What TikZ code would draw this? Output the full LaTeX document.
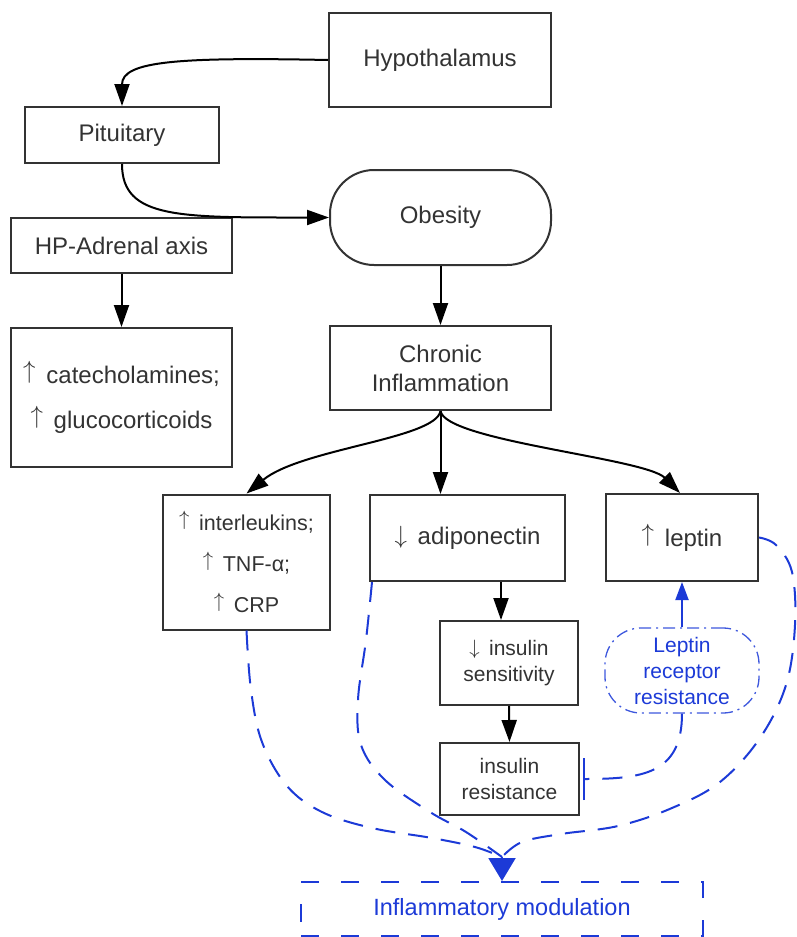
\documentclass[tikz,border=0pt]{standalone}
\usepackage{fontspec}
\setmainfont{Liberation Sans}
\usetikzlibrary{arrows.meta}
\definecolor{ink}{HTML}{333333}
\definecolor{bl}{RGB}{28,58,215}
\newcommand\myup{\raisebox{0.2em}{$\uparrow$}\hspace{0.45em}}
\newcommand\mydown{\raisebox{0.05em}{$\downarrow$}\hspace{0.45em}}
\begin{document}
\begin{tikzpicture}[x=1pt,y=-1pt,
  box/.style={draw=ink, line width=2pt, rectangle, inner sep=0pt, text=ink, align=center, font=\fontsize{24}{29}\selectfont},
  smallbox/.style={box, font=\fontsize{21}{26}\selectfont},
  blk/.style={draw=black, line width=2pt, -{Triangle[length=22pt,width=15pt]}},
  bldash/.style={draw=bl, line width=2pt, dash pattern=on 20pt off 13pt},
]
\useasboundingbox (0,0) rectangle (796,937);

\node[box, minimum width=222pt, minimum height=94pt] (hyp) at (440,60) {Hypothalamus};
\node[box, minimum width=194pt, minimum height=56pt] (pit) at (122,135) {Pituitary};
\node[box, rounded corners=44pt, minimum width=221pt, minimum height=95pt] (obe) at (440.5,217.5) {Obesity};
\node[box, minimum width=221pt, minimum height=55pt] (hpa) at (121.5,245.5) {HP-Adrenal axis};
\node[box, minimum width=221pt, minimum height=139pt, font=\fontsize{24}{45}\selectfont] (cat) at (121.5,397.5) {\myup catecholamines;\\\myup glucocorticoids};
\node[box, minimum width=221pt, minimum height=84pt] (chr) at (440.5,368) {Chronic\\Inflammation};
\node[box, minimum width=167pt, minimum height=135pt, font=\fontsize{21.5}{41}\selectfont] (il) at (246.5,562) {\myup interleukins;\\\myup TNF-α;\\\myup CRP};
\node[box, minimum width=195pt, minimum height=86pt] (adi) at (467.5,538) {\mydown adiponectin};
\node[box, minimum width=152pt, minimum height=87pt] (lep) at (682,537.5) {\myup leptin};
\node[smallbox, minimum width=138pt, minimum height=84pt] (ins) at (509,663) {\mydown insulin\\sensitivity};
\node[smallbox, minimum width=139pt, minimum height=72pt] (inr) at (509.5,779) {insulin\\resistance};
\node[draw=bl!85, line width=1.3pt, dash pattern=on 12pt off 5pt on 2pt off 5pt, rounded corners=36pt,
      minimum width=154pt, minimum height=85pt, inner sep=0pt, text=bl, align=center,
      font=\fontsize{21}{26}\selectfont] (lrr) at (682,670.5) {Leptin\\receptor\\resistance};
\node[draw=bl, line width=2pt, dash pattern=on 18pt off 22pt, minimum width=402pt, minimum height=54pt,
      inner sep=0pt, text=bl, font=\fontsize{23.5}{28}\selectfont] (im) at (502,909) {Inflammatory modulation};
\coordinate (hd) at (502,857);

% black connectors
\draw[blk] (hyp.west) .. controls +(-150,-3) and +(0,-45) .. (pit.north);
\draw[blk] (pit.south) .. controls +(0,55) and +(-150,0) .. (obe.west);
\draw[blk] (hpa.south) -- (cat.north);
\draw[blk] (obe.south) -- (chr.north);
\draw[blk] (chr.south) .. controls +(-5,28) and +(55,-45) .. (il.north);
\draw[blk] (chr.south) -- (chr.south |- adi.north);
\draw[blk] (chr.south) .. controls +(5,30) and +(-35,-35) .. ([xshift=-2pt]lep.north);
\draw[blk] (adi.south -| 501,0) -- (ins.north -| 501,0);
\draw[blk] (ins.south) -- (inr.north);

% blue connectors
\draw[draw=bl, line width=2pt, -{Triangle[length=18pt,width=13pt]}] (lrr.north) -- (lep.south);
\draw[draw=bl, line width=2pt, dash pattern=on 20pt off 13pt, -{Bar[width=42pt]}]
  (lrr.south) .. controls +(0,60) and +(60,0) .. ([xshift=3pt]inr.east);
\draw[bldash] plot[smooth, tension=0.6] coordinates {(il.south) (251,690) (262,742) (287,786) (322,812) (372,828) (432,838) (475,847) (hd)};
\draw[bldash] plot[smooth, tension=0.6] coordinates {([xshift=3pt]adi.south west) (366,640) (358,700) (361,745) (385,780) (430,812) (466,832) (hd)};
\draw[bldash] plot[smooth, tension=0.6] coordinates {(lep.east) (776,545) (792,572) (795,625) (786,685) (760,738) (720,782) (672,808) (618,826) (561,834) (522,842) (hd)};
\draw[draw=bl, line width=2pt, -{Triangle[length=23pt,width=27pt]}] (hd) -- (im.north);
\end{tikzpicture}
\end{document}
